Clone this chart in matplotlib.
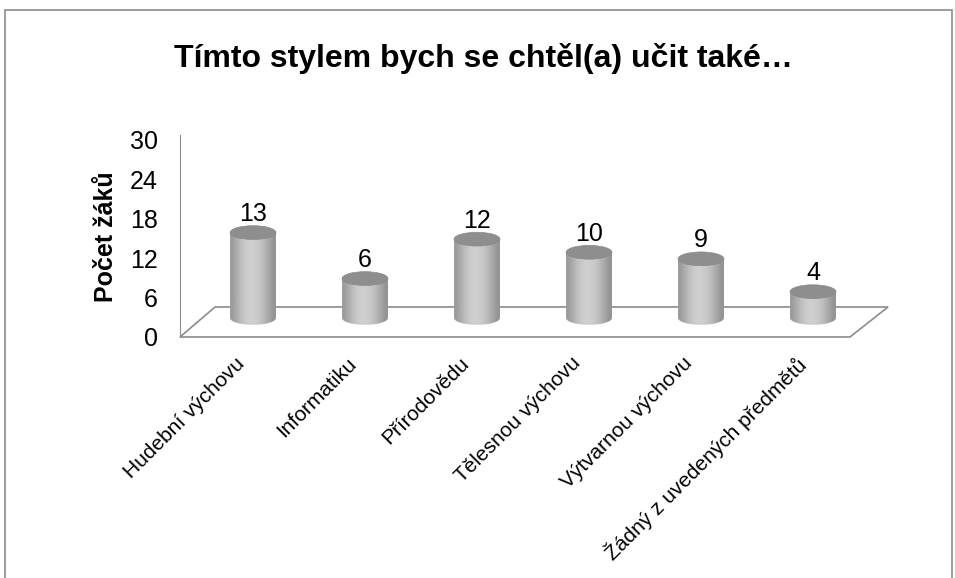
import numpy as np
import matplotlib
matplotlib.use("Agg")
import matplotlib.pyplot as plt
import matplotlib.transforms as mtransforms
from matplotlib.patches import Ellipse, Polygon, Rectangle, PathPatch
from matplotlib.path import Path

plt.rcParams['font.family'] = ['Liberation Sans', 'DejaVu Sans']

# data
categories = ["Hudební výchovu", "Informatiku", "Přírodovědu", "Tělesnou výchovu",
              "Výtvarnou výchovu", "Žádný z uvedených předmětů"]
values = [13, 6, 12, 10, 9, 4]
yticks = [0, 6, 12, 18, 24, 30]
title = "Tímto stylem bych se chtěl(a) učit také…"
ylabel = "Počet žáků"

fig = plt.figure(figsize=(9.55, 5.78), dpi=100)
W, H = 955, 578

# outer chart border
fig.patches.append(Rectangle((5 / W, -0.1), 947 / W, (H - 10) / H + 0.1,
                             transform=fig.transFigure, fill=False,
                             edgecolor='#8c8c8c', lw=1.2))

ax = fig.add_axes([180 / W, (H - 337) / H, (890 - 180) / W, (337 - 140) / H])

for s in ['top', 'right', 'bottom']:
    ax.spines[s].set_visible(False)
ax.spines['left'].set_color('#8c8c8c')
ax.spines['left'].set_bounds(0, 30.8)
ax.spines['left'].set_clip_on(False)

ax.set_yticks(yticks)
ax.set_yticklabels([str(t) for t in yticks], fontsize=18)
ax.tick_params(axis='y', length=0, pad=16)

x = np.arange(len(categories))
ax.set_xticks(x)
ax.set_xticklabels(categories, rotation=45, ha='right', va='top',
                   rotation_mode='anchor', fontsize=15)
ax.tick_params(axis='x', length=0, pad=12)
shift = mtransforms.ScaledTranslation(-18 / 100, 0, fig.dpi_scale_trans)
for lab in ax.get_xticklabels():
    lab.set_transform(lab.get_transform() + shift)

# floor of the 3d plot
depth = 4.57
floor = Polygon([(-0.652, 0), (-0.339, depth), (5.67, depth), (5.33, 0)],
                closed=True, facecolor='white', edgecolor='#8c8c8c', lw=1.2,
                clip_on=False, zorder=1)
ax.add_patch(floor)

# cylinders
base = 2.9
bw = 0.41
eh = 2.1
grad = np.array([0.60, 0.66, 0.72, 0.77, 0.80, 0.81, 0.80, 0.78, 0.74, 0.69, 0.63, 0.57])
grad_img = np.tile(grad, (2, 1))
for xi, v in zip(x, values):
    x0, x1 = xi - bw / 2, xi + bw / 2
    top = base + v
    t = np.linspace(np.pi, 2 * np.pi, 40)
    bx = xi + bw / 2 * np.cos(t)
    by = base + eh / 2 * np.sin(t)
    verts = [(x0, top)] + list(zip(bx, by)) + [(x1, top), (x0, top)]
    clip = PathPatch(Path(verts), transform=ax.transData, facecolor='none', edgecolor='none')
    ax.add_patch(clip)
    im = ax.imshow(grad_img, cmap='gray', vmin=0, vmax=1, aspect='auto',
                   extent=(x0, x1, base - eh, top), interpolation='bicubic', zorder=2)
    im.set_clip_path(clip)
    ax.add_patch(Ellipse((xi, top), bw, eh, facecolor='#8e8e8e',
                         edgecolor='#8a8a8a', lw=0.5, zorder=3))
    ax.text(xi, top + 1.0, str(v), ha='center', va='bottom', fontsize=18, zorder=4)

ax.set_xlim(-0.652, 5.6875)
ax.set_ylim(0, 30)

fig.text(483 / W, 1 - 58 / H, title, ha='center', va='center',
         fontsize=23, fontweight='bold')
fig.text(106 / W, 1 - 237 / H, ylabel, ha='center', va='center', rotation=90,
         fontsize=18, fontweight='bold')

fig.savefig("out.png", dpi=100)
